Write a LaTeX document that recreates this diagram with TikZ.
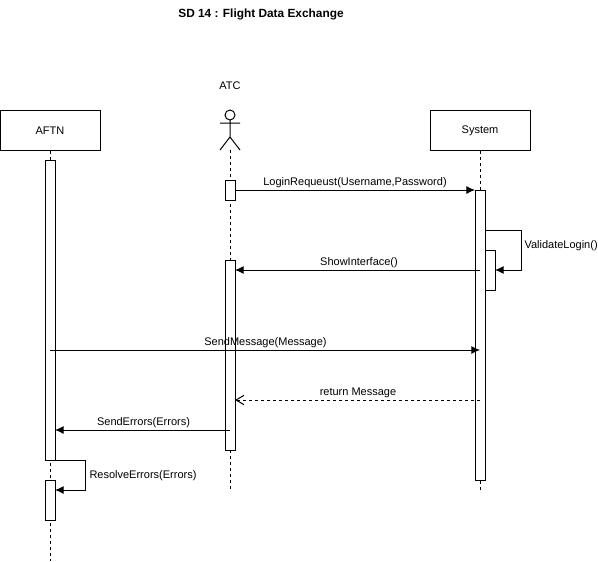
\documentclass[tikz,border=0pt]{standalone}
\usepackage{fontspec}
\setmainfont{Liberation Sans}
\usetikzlibrary{arrows.meta,positioning,calc,fit}

\begin{document}
\begin{tikzpicture}[
  x=0.75pt, y=-0.75pt,
  line width=0.75pt,
  headbox/.style={draw, minimum width=75pt, minimum height=30pt, inner sep=0pt, font=\fontsize{8.25}{10}\selectfont},
  actbar/.style={draw, fill=white, inner sep=0pt},
  lifeline/.style={dash pattern=on 2.25pt off 2.25pt},
  msg/.style={-{Latex[length=6.5pt,width=6pt]}},
  reply/.style={-{Straight Barb[length=6pt,width=7pt]}, dash pattern=on 2.25pt off 2.25pt},
  msglabel/.style={inner sep=0pt, font=\fontsize{8.25}{10}\selectfont}
]
\useasboundingbox (0,0) rectangle (598,561);

\node[font=\fontsize{8.9}{10}\selectfont\bfseries] (title) at (261,14) {SD 14 : Flight Data Exchange};
\node[headbox] (aftn) at (50,130.5) {AFTN};
\node[headbox] (system) at (480,130.5) {System};
\node[msglabel] (atclabel) at (230,86) {ATC};

% stick figure
\draw (230,115) circle[radius=5];
\coordinate (atcfoot) at (230,137);
\draw (230,120) -- (atcfoot) (220,123) -- (240,123) (220,150) -- (atcfoot) -- (240,150);

\coordinate (atcbase) at (230,150);
\coordinate (atcend) at (230,490);
\coordinate (systemend) at (480,490);
\coordinate (aftnend) at (50,561);
\draw[lifeline] (aftn) -- (aftnend);
\draw[lifeline] (atcbase) -- (atcend);
\draw[lifeline] (system) -- (systemend);

\foreach \n/\xa/\ya/\xb/\yb in {b1/45/160/55/460,b2/45/480/55/520,a1/225/180/235/200,a2/225/260/235/450,s1/475/190/485/480,s2/485/250/495/290}{
  \node[actbar, fit={(\xa,\ya)(\xb,\yb)}] (\n) {};
}

% messages
\coordinate (loginfrom) at (235,190);
\coordinate (loginto) at (475,190);
\coordinate (showfrom) at (480,270);
\coordinate (showto) at (235,270);
\coordinate (sendfrom) at (50,350);
\coordinate (sendto) at (480,350);
\coordinate (retfrom) at (480,400);
\coordinate (retto) at (235,400);
\coordinate (errfrom) at (230,430);
\coordinate (errto) at (55,430);
\coordinate (valfrom) at (485,230);
\coordinate (valto) at (495,270);
\coordinate (resfrom) at (50,460);
\coordinate (resto) at (55,490);

\draw[msg] (loginfrom) -- (loginto);
\draw[msg] (showfrom) -- (showto);
\draw[msg] (sendfrom) -- (sendto);
\draw[reply] (retfrom) -- (retto);
\draw[msg] (errfrom) -- (errto);
\draw[msg] (valfrom) -- (521,230) -- (521,270) -- (valto);
\draw[msg] (resfrom) -- (85,460) -- (85,490) -- (resto);

\node[msglabel] (l1) at (355,182.5) {LoginRequeust(Username,Password)};
\node[msglabel, anchor=west] (l2) at (524,246) {ValidateLogin()};
\node[msglabel] (l3) at (359,262.5) {ShowInterface()};
\node[msglabel] (l4) at (265.5,342.5) {SendMessage(Message)};
\node[msglabel] (l5) at (358,392.5) {return Message};
\node[msglabel] (l6) at (143.5,422.5) {SendErrors(Errors)};
\node[msglabel, anchor=west] (l7) at (89,476) {ResolveErrors(Errors)};
\end{tikzpicture}
\end{document}
